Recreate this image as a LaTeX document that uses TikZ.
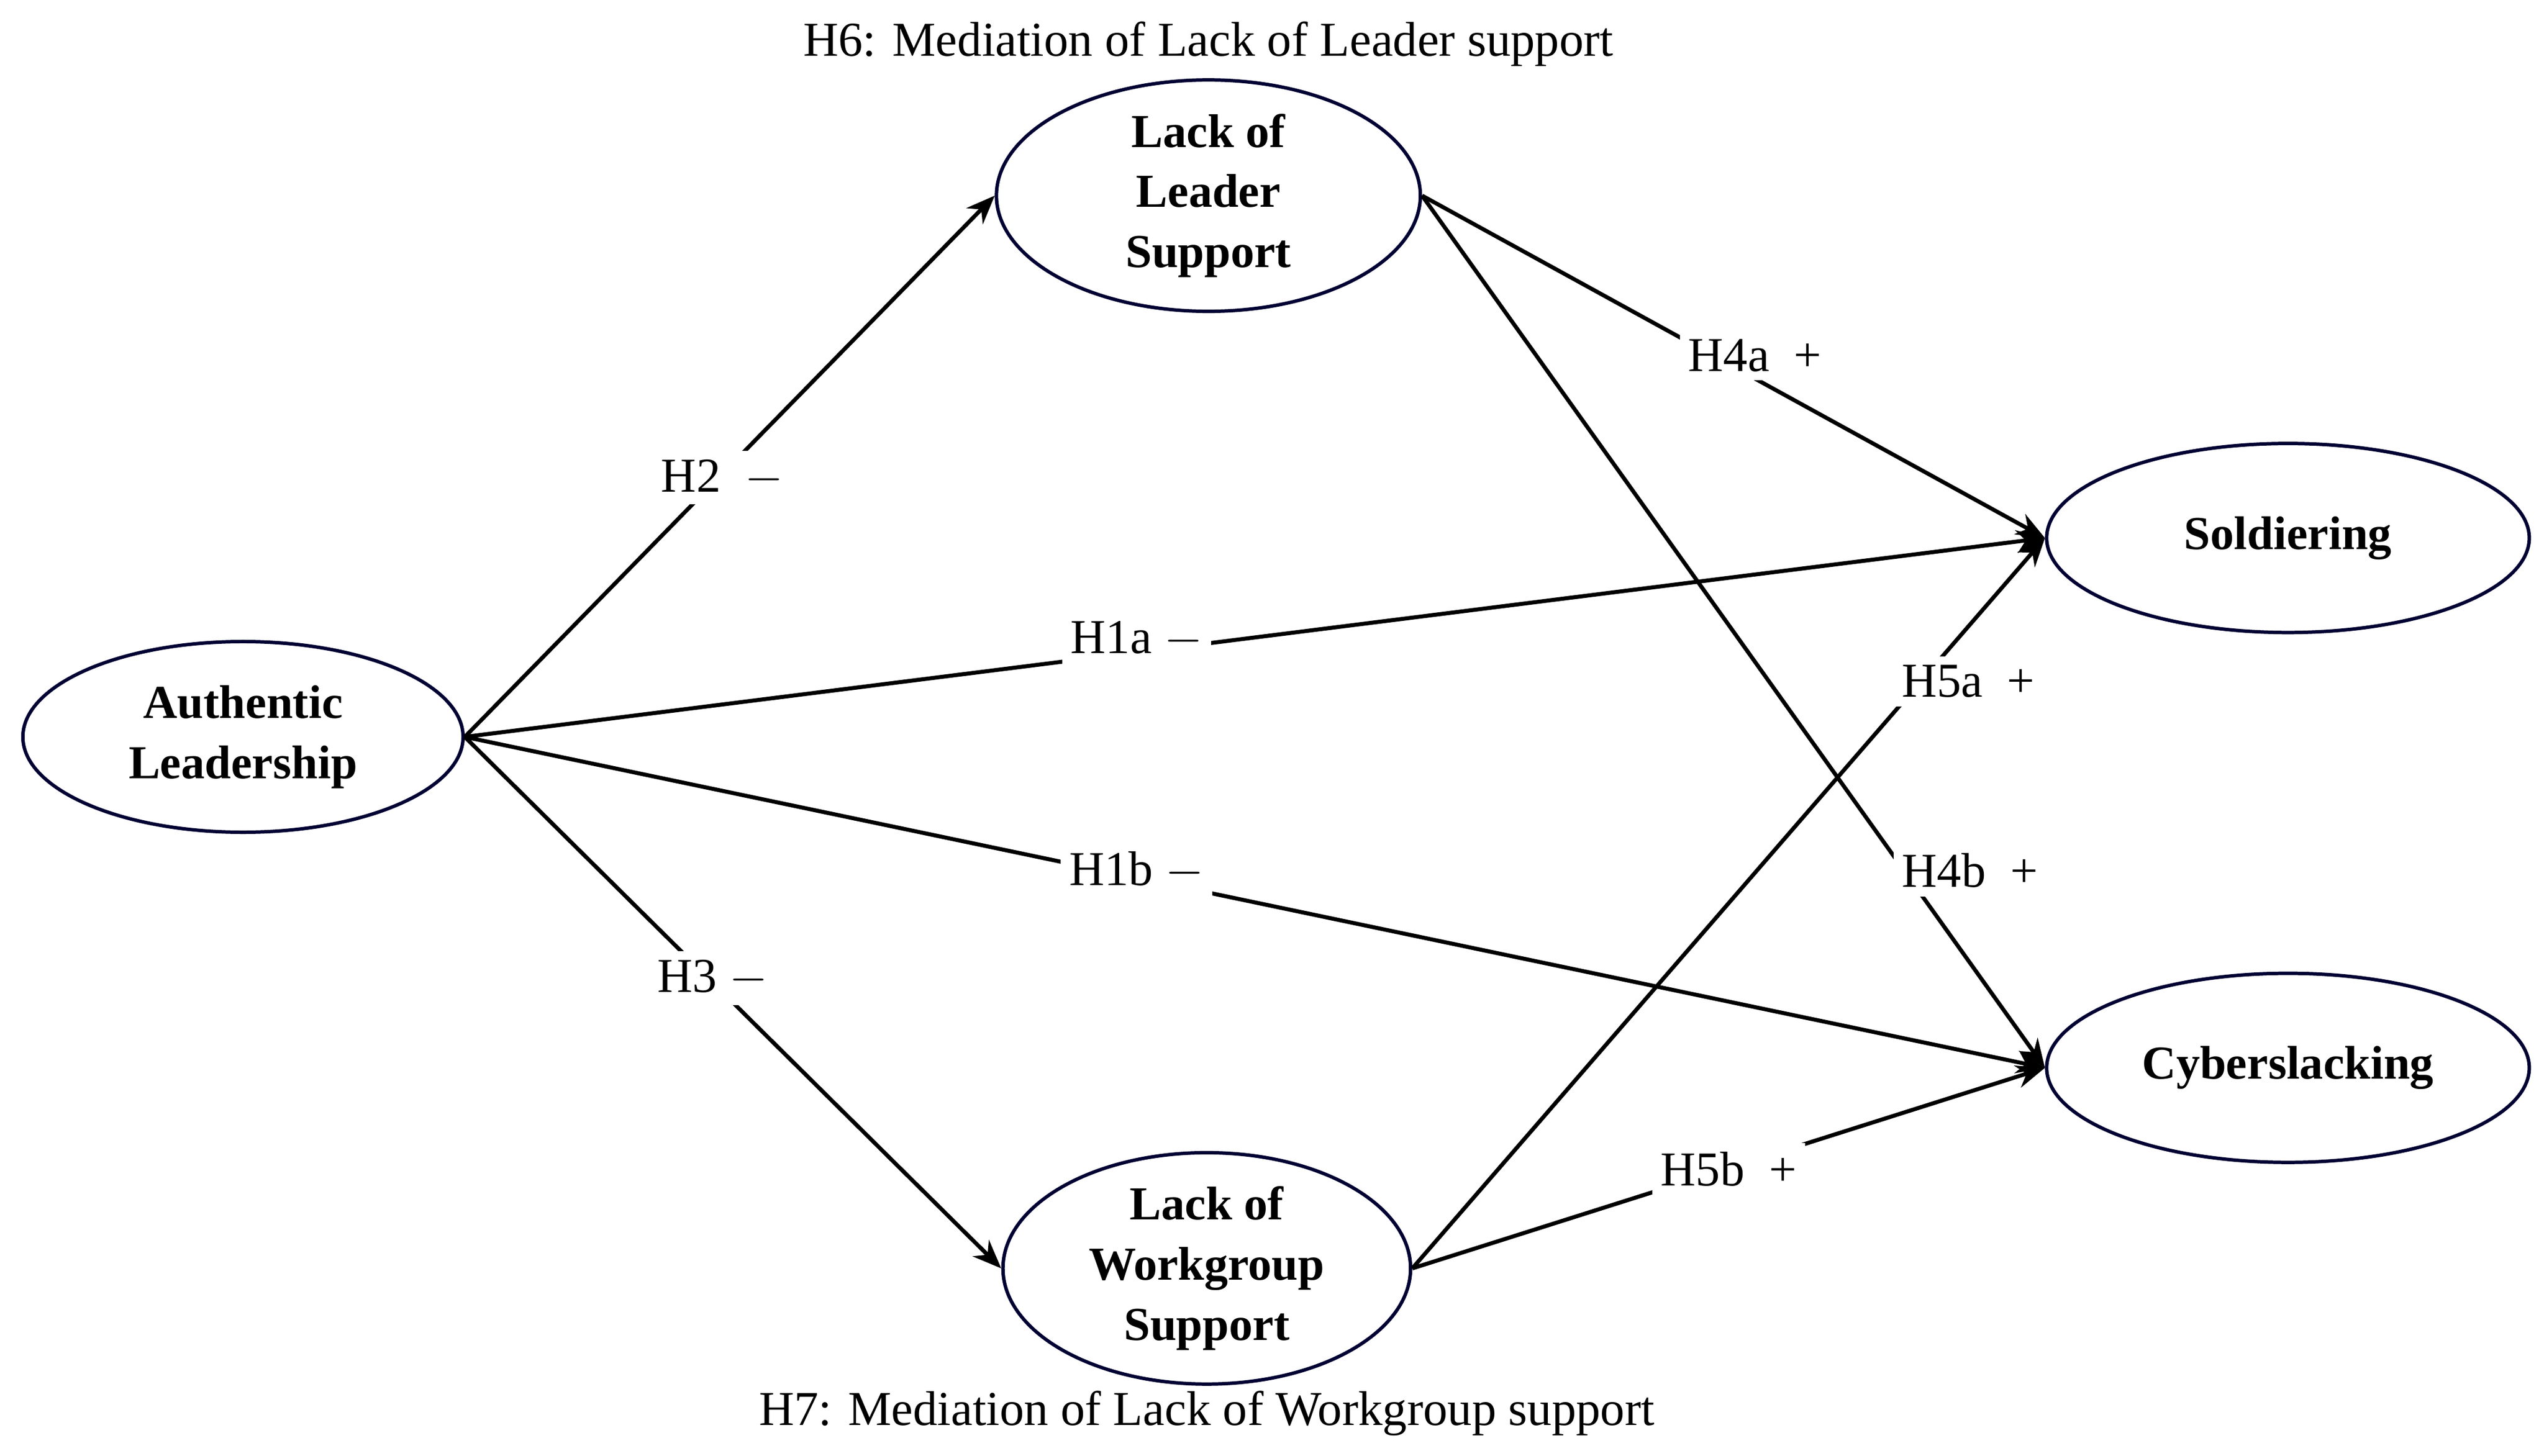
\documentclass[tikz,border=0pt]{standalone}
\usepackage{fontspec}
\setmainfont{Liberation Serif}
\usetikzlibrary{shapes.geometric,arrows.meta}
\tikzset{
  construct/.style={ellipse, draw=black!80!blue, line width=1.2pt, align=center, font=\fontsize{16.5}{21}\selectfont\bfseries, inner sep=0pt},
  path/.style={line width=1.4pt, -{Stealth[length=10pt,width=8pt]}},
  hyp/.style={fill=white, inner sep=3pt, font=\fontsize{17}{20}\selectfont},
  note/.style={font=\fontsize{17}{20}\selectfont},
}
\begin{document}
\begin{tikzpicture}[x=0.02cm,y=-0.02cm]
\useasboundingbox (0,0) rectangle (1560,893);
% constructs
\node[construct, minimum width=5.4cm, minimum height=2.34cm] (auth) at (149,452) {Authentic\\Leadership};
\node[construct, minimum width=5.2cm, minimum height=2.32cm] (leader) at (741,120) {Lack of\\Leader\\Support};
\node[construct, minimum width=5.0cm, minimum height=2.28cm] (group) at (740,778) {Lack of\\Workgroup\\Support};
\node[construct, minimum width=5.92cm, minimum height=2.32cm] (sold) at (1403,330) {Soldiering};
\node[construct, minimum width=5.92cm, minimum height=2.32cm] (cyber) at (1403,655) {Cyberslacking};

% paths
\draw[path] (auth.east) -- (leader.west);
\draw[path] (auth.east) -- (group.west);
\draw[path] (auth.east) -- (sold.west);
\draw[path] (auth.east) -- (cyber.west);
\draw[path] (leader.east) -- (sold.west);
\draw[path] (leader.east) -- (cyber.west);
\draw[path] (group.east) -- (sold.west);
\draw[path] (group.east) -- (cyber.west);

% hypotheses
\node[hyp] (h2) at (443,293) {H2 \ $-$};
\node[hyp] (h1a) at (697,392) {H1a $-$};
\node[hyp] (h1b) at (697,534) {H1b $-$};
\node[hyp] (h3) at (437,600) {H3 $-$};
\node[hyp] (h4a) at (1076,218) {H4a \ +};
\node[hyp] (h5a) at (1207,418) {H5a \ +};
\node[hyp] (h4b) at (1208,534) {H4b \ +};
\node[hyp] (h5b) at (1060,717) {H5b \ +};

\node[note] (h6) at (741,27) {H6: Mediation of Lack of Leader support};
\node[note] (h7) at (740,867) {H7: Mediation of Lack of Workgroup support};
\end{tikzpicture}
\end{document}
